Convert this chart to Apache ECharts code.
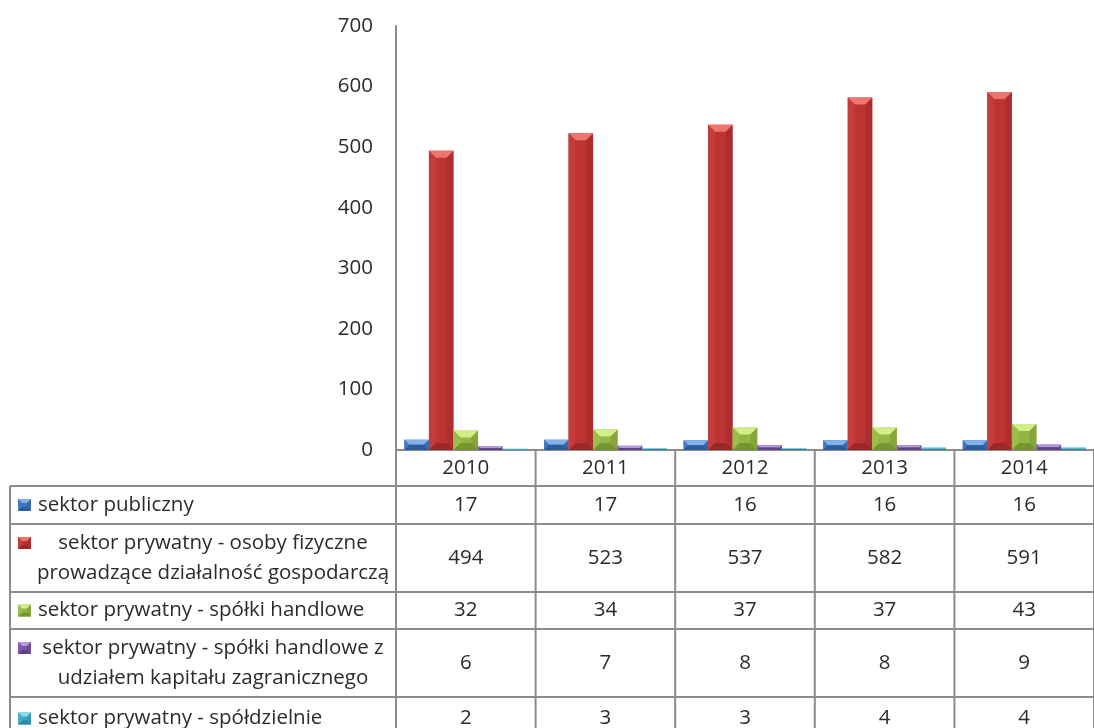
<!DOCTYPE html>
<html>
<head>
<meta charset="utf-8">
<script src="https://cdn.jsdelivr.net/npm/echarts@6/dist/echarts.min.js"></script>
<style>
  html, body { margin: 0; padding: 0; background: #fff; }
  #chart { width: 1094px; height: 728px; }
</style>
</head>
<body>
<div id="chart"></div>
<script>
const years = ["2010", "2011", "2012", "2013", "2014"];
const seriesNames = [
  "sektor publiczny",
  "sektor prywatny - osoby fizyczne prowadzące działalność gospodarczą",
  "sektor prywatny - spółki handlowe",
  "sektor prywatny - spółki handlowe z udziałem kapitału zagranicznego",
  "sektor prywatny - spółdzielnie"
];
// how the names wrap in the table
const nameLines = [
  ["sektor publiczny"],
  ["sektor prywatny - osoby fizyczne", "prowadzące działalność gospodarczą"],
  ["sektor prywatny - spółki handlowe"],
  ["sektor prywatny - spółki handlowe z", "udziałem kapitału zagranicznego"],
  ["sektor prywatny - spółdzielnie"]
];
const publiczny = [17, 17, 16, 16, 16];
const osobyFizyczne = [494, 523, 537, 582, 591];
const spolkiHandlowe = [32, 34, 37, 37, 43];
const kapitalZagraniczny = [6, 7, 8, 8, 9];
const spoldzielnie = [2, 3, 3, 4, 4];
const allValues = [publiczny, osobyFizyczne, spolkiHandlowe, kapitalZagraniczny, spoldzielnie];

// base / light (top face) / side / dark (bottom face)
const palette = [
  { base: "#3f74ba", light: "#80b2ee", side: "#4579bf", dark: "#2d5c9a" },
  { base: "#be3434", light: "#ee7670", side: "#c43c3b", dark: "#9a2828" },
  { base: "#93b544", light: "#d3ee88", side: "#9abd4b", dark: "#76952f" },
  { base: "#7a55a6", light: "#b69ade", side: "#805bad", dark: "#5f4289" },
  { base: "#3ea6c3", light: "#88daee", side: "#45adca", dark: "#2d879f" }
];

const FONT = "Open Sans";
const FS = 20.5;
const TEXT = "#2b2b2b";
const LINE = "#8c8c8c";

function bevelShapes(x0, y0, w, h, col, depth) {
  const x1 = x0 + w, y1 = y0 + h;
  const d = Math.max(0, Math.min(depth, h / 2, w / 2));
  return [
    { type: "rect", shape: { x: x0, y: y0, width: w, height: h }, style: { fill: col.base } },
    { type: "polygon", shape: { points: [[x0, y0], [x1, y0], [x1 - d, y0 + d], [x0 + d, y0 + d]] }, style: { fill: col.light } },
    { type: "polygon", shape: { points: [[x0, y0], [x0 + d, y0 + d], [x0 + d, y1 - d], [x0, y1]] }, style: { fill: col.side } },
    { type: "polygon", shape: { points: [[x1, y0], [x1, y1], [x1 - d, y1 - d], [x1 - d, y0 + d]] }, style: { fill: col.dark, opacity: 0.45 } },
    { type: "polygon", shape: { points: [[x0, y1], [x1, y1], [x1 - d, y1 - d], [x0 + d, y1 - d]] }, style: { fill: col.dark } }
  ];
}

function makeRender(idx) {
  return function (params, api) {
    const cat = api.value(0);
    const val = api.value(1);
    const p0 = api.coord([cat, 0]);
    const p1 = api.coord([cat, val]);
    const band = api.size([1, 0])[0];
    const bw = band * 0.88 / allValues.length;
    const x0 = p0[0] - bw * allValues.length / 2 + idx * bw;
    const h = p0[1] - p1[1];
    return { type: "group", children: bevelShapes(x0, p1[1], bw, h, palette[idx], 7) };
  };
}

const chart = echarts.init(document.getElementById("chart"));

const option = {
  animation: false,
  grid: { left: 396, top: 26, width: 710, height: 424 },
  xAxis: {
    type: "category",
    data: years,
    axisLine: { lineStyle: { color: LINE, width: 2 } },
    axisTick: { show: false },
    axisLabel: { margin: 8, fontFamily: FONT, fontSize: FS, color: TEXT }
  },
  yAxis: {
    type: "value",
    min: 0,
    max: 700,
    interval: 100,
    axisLine: { show: true, lineStyle: { color: LINE, width: 2 } },
    axisTick: { show: false },
    splitLine: { show: false },
    axisLabel: { margin: 23, fontFamily: FONT, fontSize: FS, color: TEXT }
  },
  series: allValues.map((vals, i) => ({
    name: seriesNames[i],
    type: "custom",
    renderItem: makeRender(i),
    encode: { x: 0, y: 1 },
    data: vals.map((v, j) => [j, v]),
    clip: false
  }))
};
chart.setOption(option);

// data table under the axis
function buildTable() {
  const rowTops = [486, 524, 592, 629, 697, 740];
  const headerTop = 450;
  const tableLeft = 10;
  const centers = years.map((y, j) => chart.convertToPixel({ xAxisIndex: 0 }, j));
  const band = centers[1] - centers[0];
  const gridLeft = centers[0] - band / 2;
  const gridRight = centers[centers.length - 1] + band / 2;
  const els = [];
  const lineStyle = { stroke: LINE, lineWidth: 2 };
  const txt = (t, x, y, align) => ({
    type: "text",
    style: { text: t, x: x, y: y, textAlign: align, textVerticalAlign: "middle", fontFamily: FONT, fontSize: FS, fill: TEXT }
  });

  rowTops.slice(0, -1).forEach(y => {
    els.push({ type: "line", shape: { x1: tableLeft, y1: y, x2: gridRight, y2: y }, style: lineStyle });
  });
  els.push({ type: "line", shape: { x1: tableLeft, y1: rowTops[0], x2: tableLeft, y2: 740 }, style: lineStyle });
  for (let j = 0; j <= years.length; j++) {
    const x = gridLeft + j * band;
    els.push({ type: "line", shape: { x1: x, y1: headerTop, x2: x, y2: 740 }, style: lineStyle });
  }

  allValues.forEach((vals, i) => {
    const top = rowTops[i], bottom = rowTops[i + 1];
    const mid = (top + bottom) / 2;
    const lines = nameLines[i];
    const firstY = lines.length > 1 ? mid - 15 : mid;
    // legend key
    els.push({ type: "group", children: bevelShapes(18, firstY - 6, 13, 12, palette[i], 4) });
    if (lines.length === 1) {
      els.push(txt(lines[0], 38, mid, "left"));
    } else {
      lines.forEach((t, k) => els.push(txt(t, 213, mid - 15 + k * 30, "center")));
    }
    vals.forEach((v, j) => els.push(txt(String(v), centers[j], mid, "center")));
  });
  chart.setOption({ graphic: [{ type: "group", silent: true, children: els }] });
}
buildTable();
</script>
</body>
</html>
